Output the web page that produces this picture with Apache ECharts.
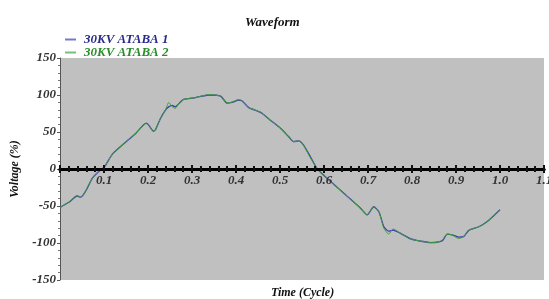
<!DOCTYPE html>
<html>
<head>
<meta charset="utf-8">
<script src="https://cdn.jsdelivr.net/npm/echarts@6/dist/echarts.min.js"></script>
<style>
  html, body { margin: 0; padding: 0; background: #fff; }
  #chart { width: 549px; height: 299px; }
</style>
</head>
<body>
<div id="chart"></div>
<script>
// time in cycles
var cycles = [0, 0.02, 0.039, 0.047, 0.055, 0.062, 0.073, 0.088, 0.1, 0.119, 0.141, 0.172, 0.196, 0.202, 0.212, 0.217, 0.228, 0.24, 0.247, 0.255, 0.262, 0.268, 0.281, 0.308, 0.338, 0.365, 0.38, 0.391, 0.406, 0.414, 0.429, 0.456, 0.478, 0.501, 0.52, 0.531, 0.543, 0.554, 0.569, 0.585, 0.615, 0.653, 0.683, 0.698, 0.713, 0.725, 0.736, 0.747, 0.757, 0.774, 0.797, 0.82, 0.842, 0.857, 0.869, 0.88, 0.891, 0.906, 0.918, 0.929, 0.952, 0.971, 1.0];
var ataba1 = [-52, -45, -36.5, -38, -33, -26, -13, -3.5, 2, 20, 32, 48, 62, 59, 51, 53, 68, 80, 84, 86, 84, 87, 94, 96.5, 100, 98.5, 89, 90, 93, 92, 83, 76.5, 66, 55, 43.5, 37, 38, 32, 16.5, 0, -17, -37, -53, -62, -51, -58, -78, -84, -82.5, -87, -94.5, -97.5, -99.5, -99, -97, -88, -89, -92, -91, -83, -78, -71, -55];
var ataba2 = [-52, -45, -36, -38.5, -33, -25, -13, -3, 2.5, 20, 32.5, 48, 61.5, 59, 51.5, 53, 68, 80, 90, 84, 82, 86.5, 94, 96.5, 100.5, 98.5, 89, 90.5, 94, 92, 83, 76.5, 66, 55, 43, 37, 38, 31.5, 15, 0, -17, -37, -53, -62, -51, -58, -80, -88, -81, -87, -94.5, -97.5, -99.5, -99, -96, -88, -89, -94, -91, -83, -78, -71, -55];
var seriesNames = ['30KV ATABA 1', '30KV ATABA 2'];

var font = 'Liberation Serif';
var myChart = echarts.init(document.getElementById('chart'));

function pairs(vals) {
    return cycles.map(function (c, i) { return [c, vals[i]]; });
}

var tickColor = '#111';
var labelFont = { fontFamily: font, fontStyle: 'italic', fontWeight: 'bold', fontSize: 13, color: '#333' };
var option = {
    animation: false,
    title: [{
        text: 'Waveform',
        left: 240,
        top: 11,
        textStyle: { fontFamily: font, fontStyle: 'italic', fontWeight: 'bold', fontSize: 13, color: '#111' }
    }, {
        // x axis name, below the plot
        text: 'Time (Cycle)',
        left: 266,
        top: 282,
        textStyle: { fontFamily: font, fontStyle: 'italic', fontWeight: 'bold', fontSize: 12, color: '#111' }
    }],
    legend: {
        orient: 'vertical',
        left: 60,
        top: 28,
        itemGap: 0,
        itemWidth: 11,
        itemHeight: 2,
        icon: 'rect',
        textStyle: { fontFamily: font, fontStyle: 'italic', fontWeight: 'bold', fontSize: 13, padding: [0, 0, 0, 3] },
        data: [
            { name: seriesNames[0], itemStyle: { color: '#7878c8' }, textStyle: { color: '#2a2a8c' } },
            { name: seriesNames[1], itemStyle: { color: '#78c078' }, textStyle: { color: '#2a8c2a' } }
        ]
    },
    grid: [{
        left: 60, right: 5, top: 58, bottom: 19,
        outerBoundsMode: 'none',
        show: true, backgroundColor: '#c0c0c0', borderWidth: 0
    }, {
        // upper half: its bottom edge is the zero line, carries the time axis
        left: 60, right: 5, top: 58, height: 111,
        outerBoundsMode: 'none'
    }],
    xAxis: [{
        gridIndex: 0,
        type: 'value', min: 0, max: 1.1, interval: 0.1,
        show: false
    }, {
        gridIndex: 1,
        type: 'value', min: 0, max: 1.1, interval: 0.1,
        position: 'bottom', z: 5,
        axisLine: { onZero: false, lineStyle: { color: '#000', width: 3 } },
        axisTick: { show: true, length: 4, lineStyle: { color: tickColor, width: 2 } },
        minorTick: { show: true, splitNumber: 5, length: 3, lineStyle: { color: tickColor, width: 2 } },
        splitLine: { show: false },
        axisLabel: Object.assign({
            margin: 5,
            formatter: function (v) { return v === 0 ? '' : v.toFixed(1); }
        }, labelFont)
    }, {
        gridIndex: 1,
        type: 'value', min: 0, max: 1.1, interval: 0.1,
        position: 'bottom', z: 5,
        axisLine: { onZero: false, lineStyle: { color: '#000', width: 3 } },
        axisTick: { show: true, inside: true, length: 4, lineStyle: { color: tickColor, width: 2 } },
        minorTick: { show: true, splitNumber: 5, length: 3, lineStyle: { color: tickColor, width: 2 } },
        splitLine: { show: false },
        axisLabel: { show: false }
    }],
    yAxis: [{
        gridIndex: 0,
        type: 'value',
        min: -150,
        max: 150,
        interval: 50,
        name: 'Voltage (%)',
        nameLocation: 'middle',
        nameGap: 38,
        nameTextStyle: { fontFamily: font, fontStyle: 'italic', fontWeight: 'bold', fontSize: 12, color: '#111' },
        axisLine: { show: true, onZero: false, lineStyle: { color: '#555', width: 1 } },
        axisTick: { show: true, length: 3, lineStyle: { color: '#555' } },
        minorTick: { show: true, splitNumber: 5, length: 2, lineStyle: { color: '#777' } },
        splitLine: { show: false },
        axisLabel: Object.assign({ margin: 4 }, labelFont)
    }, {
        gridIndex: 1,
        type: 'value', min: 0, max: 150,
        show: false
    }],
    series: [{
        name: seriesNames[0],
        type: 'line',
        xAxisIndex: 0, yAxisIndex: 0,
        smooth: 0.2,
        showSymbol: false,
        lineStyle: { color: '#3c3caa', width: 1.3 },
        itemStyle: { color: '#3c3caa' },
        data: pairs(ataba1)
    }, {
        name: seriesNames[1],
        type: 'line',
        xAxisIndex: 0, yAxisIndex: 0,
        smooth: 0.2,
        showSymbol: false,
        lineStyle: { color: '#3ea03e', width: 1 },
        itemStyle: { color: '#3ea03e' },
        data: pairs(ataba2)
    }]
};

myChart.setOption(option);
window.addEventListener('resize', function () {
    myChart.resize();
});
</script>
</body>
</html>
